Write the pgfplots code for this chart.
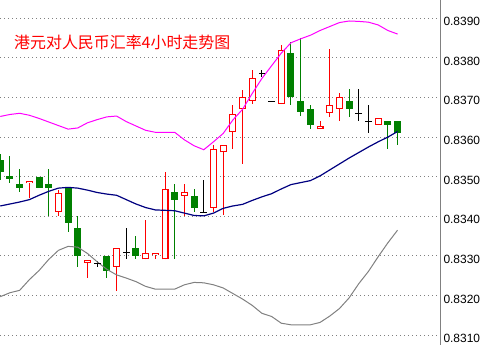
\documentclass[border=0pt]{standalone}
\usepackage{fontspec}
\setmainfont{Liberation Sans}
\newfontfamily\cjk{Noto Sans CJK SC}
\usepackage{pgfplots}
\usepackage{pgfplotstable}
\pgfplotsset{compat=1.18}
\definecolor{cgreen}{RGB}{0,128,0}
\definecolor{cnavy}{RGB}{0,0,128}
\definecolor{cmag}{RGB}{255,0,255}
\definecolor{cgray}{RGB}{128,128,128}
\definecolor{cred}{RGB}{255,0,0}

% down candles (green, filled)
\pgfplotstableread{
i o h l c
0 0.83541 0.83558 0.83491 0.83512
1 0.83501 0.83552 0.83483 0.83493
2 0.83481 0.83520 0.83461 0.83472
4 0.83500 0.83500 0.83471 0.83471
5 0.83481 0.83520 0.83400 0.83472
7 0.83472 0.83472 0.83360 0.83382
8 0.83370 0.83400 0.83272 0.83300
11 0.83299 0.83300 0.83243 0.83262
14 0.83319 0.83350 0.83291 0.83300
18 0.83461 0.83481 0.83291 0.83440
20 0.83451 0.83470 0.83411 0.83421
30 0.83811 0.83840 0.83681 0.83702
31 0.83690 0.83850 0.83652 0.83662
32 0.83670 0.83680 0.83620 0.83631
36 0.83690 0.83721 0.83651 0.83671
40 0.83640 0.83640 0.83570 0.83631
41 0.83640 0.83640 0.83580 0.83610
}\down

% up candles (red, hollow)
\pgfplotstableread{
i o h l c
3 0.83483 0.83489 0.83445 0.83489
6 0.83412 0.83467 0.83400 0.83460
9 0.83282 0.83289 0.83243 0.83289
12 0.83273 0.83319 0.83211 0.83319
15 0.83291 0.83390 0.83291 0.83308
16 0.83301 0.83308 0.83291 0.83308
17 0.83291 0.83512 0.83291 0.83470
19 0.83452 0.83481 0.83400 0.83461
22 0.83421 0.83579 0.83411 0.83569
23 0.83561 0.83579 0.83403 0.83579
24 0.83612 0.83680 0.83571 0.83659
25 0.83672 0.83720 0.83533 0.83700
26 0.83692 0.83770 0.83683 0.83750
29 0.83683 0.83833 0.83683 0.83821
33 0.83620 0.83640 0.83620 0.83629
34 0.83661 0.83822 0.83651 0.83680
35 0.83671 0.83711 0.83641 0.83700
39 0.83631 0.83649 0.83631 0.83649
}\up

% doji candles (black cross)
\pgfplotstableread{
i o h l c
10 0.83281 0.83287 0.83272 0.83281
13 0.83308 0.83370 0.83291 0.83308
21 0.83410 0.83491 0.83410 0.83410
27 0.83760 0.83770 0.83752 0.83760
28 0.83690 0.83690 0.83690 0.83690
37 0.83660 0.83721 0.83641 0.83660
38 0.83640 0.83680 0.83610 0.83640
}\doji

% Bollinger bands: upper, middle, lower
\pgfplotstableread{
i u m d
0 0.83652 0.83426 0.83197
1 0.83657 0.83431 0.83207
2 0.83660 0.83436 0.83213
3 0.83655 0.83442 0.83240
4 0.83647 0.83453 0.83263
5 0.83638 0.83463 0.83291
6 0.83629 0.83471 0.83314
7 0.83620 0.83473 0.83324
8 0.83623 0.83471 0.83322
9 0.83636 0.83466 0.83306
10 0.83644 0.83460 0.83285
11 0.83651 0.83456 0.83266
12 0.83653 0.83453 0.83252
13 0.83639 0.83442 0.83244
14 0.83628 0.83431 0.83235
15 0.83617 0.83422 0.83223
16 0.83612 0.83416 0.83216
17 0.83612 0.83415 0.83216
18 0.83612 0.83414 0.83216
19 0.83593 0.83408 0.83227
20 0.83578 0.83402 0.83233
21 0.83568 0.83401 0.83232
22 0.83588 0.83408 0.83227
23 0.83609 0.83420 0.83219
24 0.83643 0.83426 0.83205
25 0.83670 0.83430 0.83191
26 0.83710 0.83440 0.83175
27 0.83748 0.83449 0.83155
28 0.83780 0.83457 0.83147
29 0.83812 0.83469 0.83130
30 0.83838 0.83480 0.83126
31 0.83848 0.83485 0.83126
32 0.83857 0.83490 0.83126
33 0.83869 0.83502 0.83132
34 0.83879 0.83517 0.83148
35 0.83889 0.83532 0.83167
36 0.83893 0.83547 0.83194
37 0.83892 0.83561 0.83230
38 0.83890 0.83575 0.83261
39 0.83883 0.83588 0.83298
40 0.83869 0.83600 0.83333
41 0.83860 0.83614 0.83365
}\bands

\begin{document}
\begin{tikzpicture}
\begin{axis}[
  at={(0,0)}, anchor=south west,
  width=440.7bp, height=345bp, scale only axis,
  xmin=-0.03, xmax=45.45,
  ymin=0.83075, ymax=0.83946,
  axis x line=none,
  axis y line*=right,
  axis line style={draw=cgray, line width=1bp},
  ytick={0.831,0.832,0.833,0.834,0.835,0.836,0.837,0.838,0.839},
  scaled y ticks=false,
  major tick length=0pt,
  /pgf/number format/assume math mode=true,
  yticklabel style={anchor=west, inner sep=0pt, xshift=2.6bp, yshift=-3.4bp,
    font=\fontsize{12}{14}\selectfont, text=black,
    /pgf/number format/fixed, /pgf/number format/fixed zerofill,
    /pgf/number format/precision=4},
  ymajorgrids,
  grid style={draw=cgray, line width=1bp, dash pattern=on 1bp off 3bp},
  clip=true,
  candle/.style 2 args={forget plot, draw=none, mark=none,
    error bars/.cd, y dir=both, y explicit, error mark=none,
    error bar style={line width=#1, draw=#2}},
]
% wicks
\addplot[candle={1bp}{cgreen}]
  table[x=i, y=o, y error plus expr=\thisrow{h}-\thisrow{o}, y error minus expr=\thisrow{o}-\thisrow{l}] {\down};
\addplot[candle={1bp}{cred}]
  table[x=i, y=o, y error plus expr=\thisrow{h}-\thisrow{o}, y error minus expr=\thisrow{o}-\thisrow{l}] {\up};
\addplot[candle={1bp}{black}]
  table[x=i, y=o, y error plus expr=\thisrow{h}-\thisrow{o}, y error minus expr=\thisrow{o}-\thisrow{l}] {\doji};
% bodies: green filled
\addplot[candle={7bp}{cgreen}]
  table[x=i, y=o, y error plus expr=0, y error minus expr=\thisrow{o}-\thisrow{c}] {\down};
% bodies: red hollow
\addplot[candle={7bp}{cred}]
  table[x=i, y=o, y error plus expr=\thisrow{c}-\thisrow{o}, y error minus expr=0] {\up};
\addplot[candle={4.8bp}{white}]
  table[x=i, y expr=\thisrow{o}+0.0000252, y error plus expr=\thisrow{c}-\thisrow{o}-0.0000504, y error minus expr=0] {\up};
% doji crosses
\addplot[forget plot, only marks, mark=-, mark size=3.4bp,
  mark options={line width=1bp, draw=black}]
  table[x=i, y=o] {\doji};
% bands
\addplot[cmag, line width=1bp, mark=none] table[x=i, y=u] {\bands};
\addplot[cnavy, line width=1.2bp, mark=none] table[x=i, y=m] {\bands};
\addplot[cgray, line width=1bp, mark=none] table[x=i, y=d] {\bands};
% title
\node[anchor=west, inner sep=0pt, text=cred, font=\cjk\fontsize{16}{18}\selectfont]
  at (rel axis cs:0.0318,0.877) {港元对人民币汇率4小时走势图};
\end{axis}
\pgfresetboundingbox
\path[use as bounding box] (0,0) rectangle (482bp,345bp);
\end{tikzpicture}
\end{document}
